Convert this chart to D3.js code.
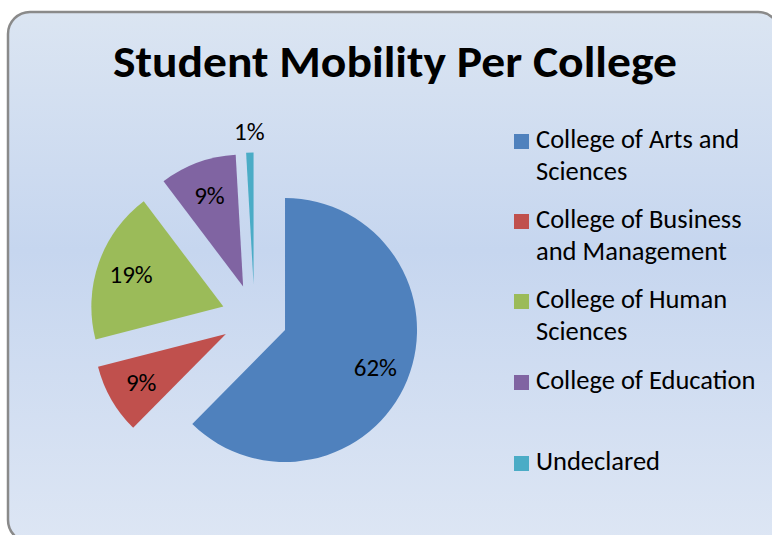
<!DOCTYPE html>
<head>
  <meta charset="utf-8">
  <script src="https://d3js.org/d3.v7.min.js"></script>
</head>
<style>
  body { margin: 0; background: #fff; }
  text { font-family: Carlito, Calibri, Lato, sans-serif; fill: #000; }
</style>
<body>
  <div id="chart"></div>
<script>
'use strict';

// data (percent of students)
var categories = ["College of Arts and Sciences", "College of Business and Management",
                  "College of Human Sciences", "College of Education", "Undeclared"];
var legendLines = [["College of Arts and", "Sciences"], ["College of Business", "and Management"],
                   ["College of Human", "Sciences"], ["College of Education"], ["Undeclared"]];
var values = [62.4, 8.6, 18.7, 9.4, 0.9];
var colors = ["#4f81bd", "#c0504d", "#9bbb59", "#8064a2", "#4bacc6"];

var width = 772, height = 535;
var cx = 254.5, cy = 317.5, radius = 132, explode = 33;

var svg = d3.select("#chart").append("svg")
    .attr("width", width)
    .attr("height", height);

var grad = svg.append("defs").append("linearGradient")
    .attr("id", "bg").attr("x1", 0).attr("y1", 0).attr("x2", 0).attr("y2", 1);
grad.append("stop").attr("offset", "0%").attr("stop-color", "#dbe5f2");
grad.append("stop").attr("offset", "45%").attr("stop-color", "#c6d6ef");
grad.append("stop").attr("offset", "100%").attr("stop-color", "#dde6f4");

svg.append("rect")
    .attr("x", 8).attr("y", 12)
    .attr("width", 772).attr("height", 530)
    .attr("rx", 22).attr("ry", 22)
    .attr("fill", "url(#bg)")
    .attr("stroke", "#8a8a8a")
    .attr("stroke-width", 2.5);

svg.append("text")
    .attr("x", 395).attr("y", 77)
    .attr("text-anchor", "middle")
    .attr("textLength", 564)
    .attr("lengthAdjust", "spacingAndGlyphs")
    .style("font-size", "44px")
    .style("font-weight", "bold")
    .text("Student Mobility Per College");

var pie = d3.pie().sort(null).startAngle(0).endAngle(2 * Math.PI);
var arcs = pie(values);
var total = d3.sum(values);

var arc = d3.arc().innerRadius(0).outerRadius(radius);
var labelArc = d3.arc().innerRadius(radius * 0.74).outerRadius(radius * 0.74);
var outerLabelArc = d3.arc().innerRadius(radius * 1.16).outerRadius(radius * 1.16);

var offset = function(d) {
  var a = (d.startAngle + d.endAngle) / 2;
  return [explode * Math.sin(a), -explode * Math.cos(a)];
};

var slices = svg.append("g")
    .attr("transform", "translate(" + cx + "," + cy + ")")
    .selectAll("g").data(arcs).enter()
    .append("g")
    .attr("transform", function(d) { var o = offset(d); return "translate(" + o[0] + "," + o[1] + ")"; });

slices.append("path")
    .attr("d", arc)
    .attr("fill", function(d, i) { return colors[i]; });

slices.append("text")
    .attr("transform", function(d) {
      var p = (d.value / total < 0.05) ? outerLabelArc.centroid(d) : labelArc.centroid(d);
      return "translate(" + p[0] + "," + p[1] + ")";
    })
    .attr("text-anchor", "middle")
    .attr("dy", "0.35em")
    .style("font-size", "25px")
    .text(function(d) { return Math.round(d.value / total * 100) + "%"; });

// legend
var legendY = [148, 228, 308, 389, 470];
var legend = svg.append("g").attr("class", "legend")
    .selectAll("g").data(categories).enter()
    .append("g")
    .attr("transform", function(d, i) { return "translate(514," + legendY[i] + ")"; });

legend.append("rect")
    .attr("x", 0).attr("y", -14)
    .attr("width", 15).attr("height", 15)
    .attr("fill", function(d, i) { return colors[i]; });

legend.append("text")
    .attr("x", 22)
    .style("font-size", "26.5px")
    .selectAll("tspan").data(function(d, i) { return legendLines[i]; }).enter()
    .append("tspan")
    .attr("x", 22)
    .attr("dy", function(d, j) { return j ? 32 : 0; })
    .text(function(d) { return d; });

</script>
</body>
